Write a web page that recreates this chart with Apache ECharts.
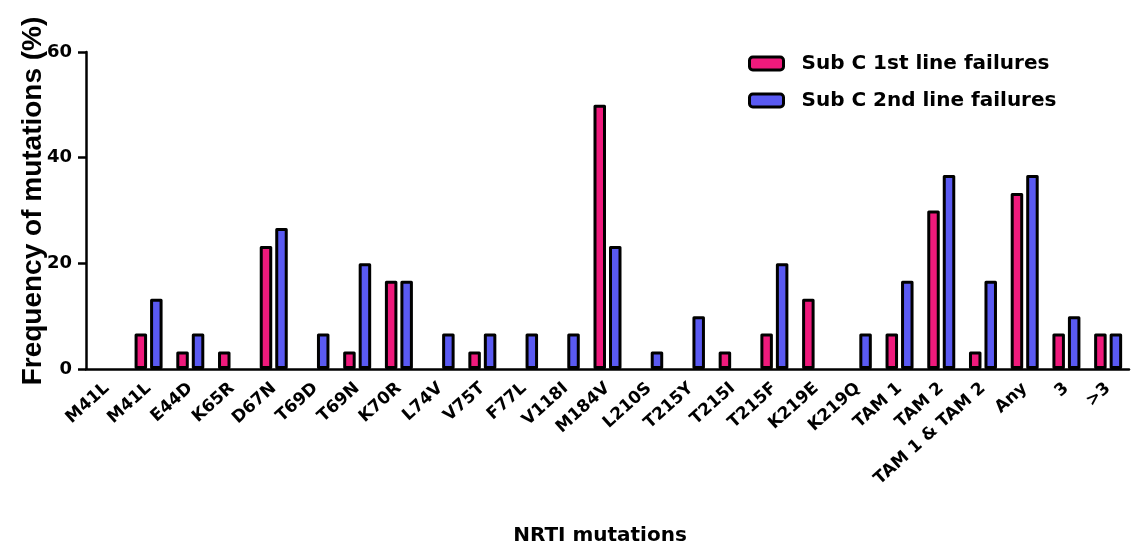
<!DOCTYPE html>
<html>
<head>
<meta charset="utf-8">
<script src="https://cdn.jsdelivr.net/npm/echarts@6/dist/echarts.min.js"></script>
<style>
  html, body { margin: 0; padding: 0; background: #ffffff; }
  #chart { width: 1135px; height: 548px; }
</style>
</head>
<body>
<div id="chart"></div>
<script>
// NRTI resistance mutation frequencies (%) in subtype C treatment failures
const categories = ['M41L', 'M41L', 'E44D', 'K65R', 'D67N', 'T69D', 'T69N', 'K70R', 'L74V', 'V75T',
  'F77L', 'V118I', 'M184V', 'L210S', 'T215Y', 'T215I', 'T215F', 'K219E', 'K219Q',
  'TAM 1', 'TAM 2', 'TAM 1 & TAM 2', 'Any', '3', '>3'];
const firstLine = [0, 6.7, 3.3, 3.3, 23.3, 0, 3.3, 16.7, 0, 3.3,
  0, 0, 50, 0, 0, 3.3, 6.7, 13.3, 0,
  6.7, 30, 3.3, 33.3, 6.7, 6.7];
const secondLine = [0, 13.3, 6.7, 0, 26.7, 6.7, 20, 16.7, 6.7, 6.7,
  6.7, 6.7, 23.3, 3.3, 10, 0, 20, 0, 6.7,
  16.7, 36.7, 16.7, 36.7, 10, 6.7];
const seriesNames = ['Sub C 1st line failures', 'Sub C 2nd line failures'];
const yTicks = [0, 20, 40, 60];

const PINK = '#ef1a7c';
const BLUE = '#5a5af2';
const INK = '#000000';

const chart = echarts.init(document.getElementById('chart'), null, { renderer: 'canvas' });

const barStyle = (color) => ({
  color: color,
  borderColor: INK,
  borderWidth: 3,
  borderJoin: 'round'
});

// empty categories get no outline so nothing sits on the baseline
const toItems = (values) => values.map(v => (v === 0 ? { value: v, itemStyle: { borderWidth: 0 } } : v));

chart.setOption({
  backgroundColor: '#ffffff',
  animation: false,
  grid: { left: 86, right: 6, top: 52, bottom: 179, containLabel: false },
  legend: {
    orient: 'vertical',
    left: 743,
    top: 48,
    itemWidth: 34,
    itemHeight: 13,
    itemGap: 16,
    data: seriesNames,
    itemStyle: { borderColor: INK, borderWidth: 3 },
    textStyle: {
      fontFamily: 'DejaVu Sans',
      fontWeight: 'bold',
      fontSize: 20,
      lineHeight: 21,
      color: INK,
      padding: [0, 0, 0, 13]
    }
  },
  xAxis: {
    type: 'category',
    data: categories,
    z: 5,
    axisLine: { lineStyle: { color: INK, width: 2.5 } },
    axisTick: { alignWithLabel: true, length: 8, lineStyle: { color: INK, width: 2.5 } },
    axisLabel: {
      interval: 0,
      rotate: 42,
      margin: 17,
      color: INK,
      fontFamily: 'DejaVu Sans',
      fontWeight: 'bold',
      fontSize: 17
    }
  },
  yAxis: {
    type: 'value',
    min: yTicks[0],
    max: yTicks[yTicks.length - 1],
    interval: 20,
    splitLine: { show: false },
    axisLine: { show: true, lineStyle: { color: INK, width: 2.5 } },
    axisTick: { show: true, length: 8, lineStyle: { color: INK, width: 2.5 } },
    axisLabel: {
      margin: 14,
      color: INK,
      fontFamily: 'DejaVu Sans',
      fontWeight: 'bold',
      fontSize: 18
    }
  },
  graphic: [
    {
      type: 'text',
      x: 33,
      y: 201,
      rotation: Math.PI / 2,
      style: {
        text: 'Frequency of mutations (%)',
        fill: INK,
        font: 'bold 28px "Liberation Sans", Arial, sans-serif',
        textAlign: 'center',
        textVerticalAlign: 'middle'
      }
    },
    {
      type: 'text',
      x: 600,
      y: 536,
      style: {
        text: 'NRTI mutations',
        fill: INK,
        font: 'bold 20px "DejaVu Sans", sans-serif',
        textAlign: 'center',
        textVerticalAlign: 'middle'
      }
    }
  ],
  series: [
    {
      name: seriesNames[0],
      type: 'bar',
      data: toItems(firstLine),
      barWidth: 12.5,
      barGap: '24%',
      itemStyle: barStyle(PINK)
    },
    {
      name: seriesNames[1],
      type: 'bar',
      data: toItems(secondLine),
      barWidth: 12.5,
      barGap: '24%',
      itemStyle: barStyle(BLUE)
    }
  ]
});
</script>
</body>
</html>
